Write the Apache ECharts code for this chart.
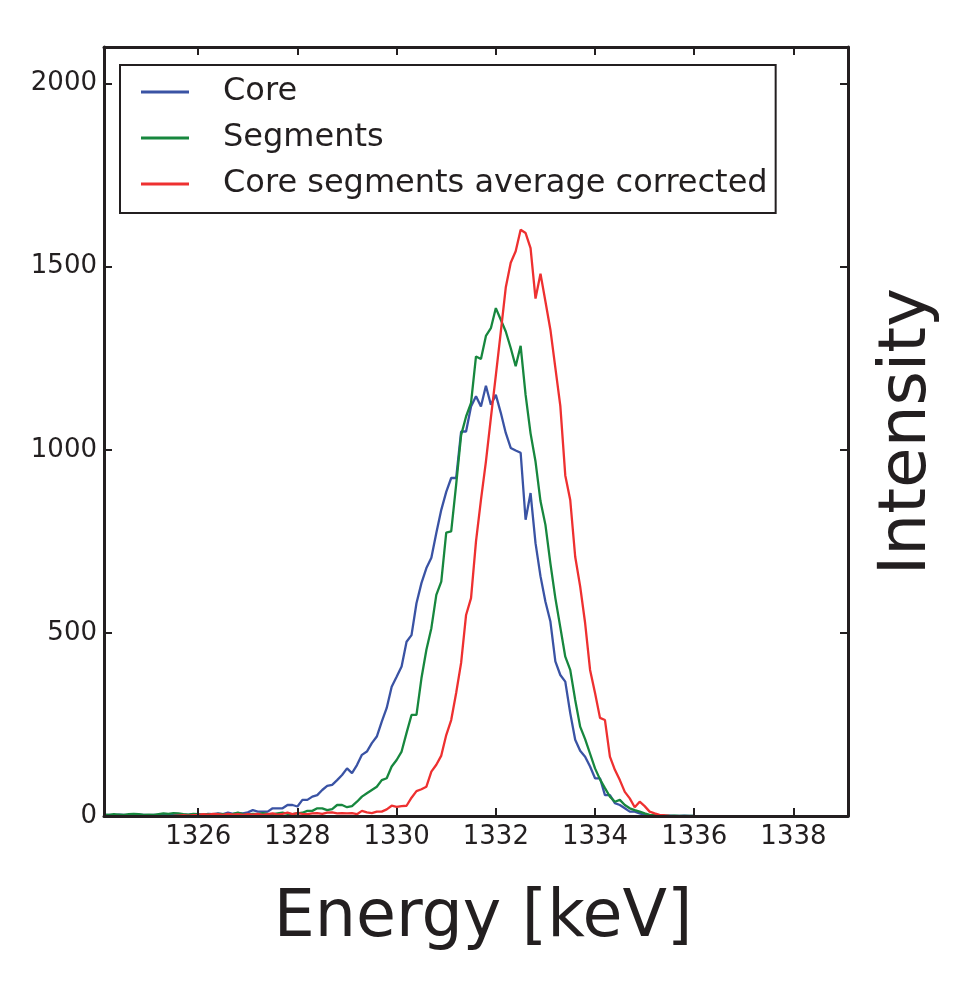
<!DOCTYPE html>
<html><head><meta charset="utf-8">
<script src="https://cdn.jsdelivr.net/npm/echarts@6/dist/echarts.min.js"></script>
<style>html,body{margin:0;padding:0;background:#fff}#c{width:954px;height:991px}</style>
</head><body><div id="c"></div>
<script>
const energies = [
1324.1,1324.2,1324.3,1324.4,1324.5,1324.6,1324.7,1324.8,1324.9,1325.0,
1325.1,1325.2,1325.3,1325.4,1325.5,1325.6,1325.7,1325.8,1325.9,1326.0,
1326.1,1326.2,1326.3,1326.4,1326.5,1326.6,1326.7,1326.8,1326.9,1327.0,
1327.1,1327.2,1327.3,1327.4,1327.5,1327.6,1327.7,1327.8,1327.9,1328.0,
1328.1,1328.2,1328.3,1328.4,1328.5,1328.6,1328.7,1328.8,1328.9,1329.0,
1329.1,1329.2,1329.3,1329.4,1329.5,1329.6,1329.7,1329.8,1329.9,1330.0,
1330.1,1330.2,1330.3,1330.4,1330.5,1330.6,1330.7,1330.8,1330.9,1331.0,
1331.1,1331.2,1331.3,1331.4,1331.5,1331.6,1331.7,1331.8,1331.9,1332.0,
1332.1,1332.2,1332.3,1332.4,1332.5,1332.6,1332.7,1332.8,1332.9,1333.0,
1333.1,1333.2,1333.3,1333.4,1333.5,1333.6,1333.7,1333.8,1333.9,1334.0,
1334.1,1334.2,1334.3,1334.4,1334.5,1334.6,1334.7,1334.8,1334.9,1335.0,
1335.1,1335.2,1335.3,1335.4,1335.5,1335.6,1335.7,1335.8,1335.9,1336.0
];
const coreValues = [
2,3,2,4,3,2,3,4,3,2,
3,2,4,3,5,3,4,3,5,4,
4,6,5,7,5,9,6,8,7,10,
16,12,12,12,21,21,21,30,30,26,
44,44,53,57,71,82,85,98,112,130,
117,139,167,176,199,217,258,295,353,380,
408,476,494,581,636,677,705,773,836,885,
923,923,1050,1050,1118,1146,1118,1175,1123,1150,
1101,1046,1005,998,992,809,882,745,655,585,
531,422,385,367,281,208,178,162,135,103,
103,57,57,35,30,21,12,12,7,3,
2,1,2,0,1,0,0,1,0,0
];
const segmentValues = [
4,3,5,4,3,5,6,5,3,4,
3,5,7,6,8,7,5,4,6,5,
3,5,4,6,5,4,6,9,5,4,
6,5,8,6,5,7,9,6,5,7,
9,14,14,21,21,16,19,30,30,24,
27,39,53,62,71,80,98,103,135,153,
176,227,276,276,376,454,513,604,640,774,
777,905,1040,1091,1128,1255,1248,1311,1332,1387,
1355,1323,1278,1228,1284,1150,1045,968,860,795,
690,595,515,435,399,317,244,210,170,130,
100,76,53,39,44,30,21,16,12,7,
3,2,1,1,0,1,0,0,0,0
];
const correctedValues = [
null,null,null,null,null,null,null,null,null,null,
null,null,null,null,0,1,2,1,2,3,
5,4,6,5,3,6,4,5,3,5,
4,6,3,5,7,4,6,9,5,8,
6,5,7,8,6,9,10,7,8,7,
8,5,14,10,8,12,12,18,28,25,
27,28,50,68,73,80,121,140,165,221,
262,336,418,549,595,750,863,968,1087,1203,
1322,1443,1511,1542,1601,1592,1551,1413,1481,1405,
1328,1224,1120,930,863,708,627,527,399,336,
268,262,162,126,98,66,48,24,39,27,
12,7,3,2,0,null,null,null,null,null
];
const seriesNames = ['Core', 'Segments', 'Core segments average corrected'];
const seriesColors = ['#3A53A4', '#17873E', '#EE3030'];
const xTicks = [1326, 1328, 1330, 1332, 1334, 1336, 1338];
const yTicks = [0, 500, 1000, 1500, 2000];

const ink = '#231f20';
const font = 'DejaVu Sans';
function pairs(vals) { return energies.map((e, i) => [e, vals[i]]); }
const allValues = [coreValues, segmentValues, correctedValues];
const plain = v => String(v);

const chart = echarts.init(document.getElementById('c'), null, {renderer: 'canvas'});
const axisLineStyle = {show: true, onZero: false, lineStyle: {color: ink, width: 3}};
const tickStyle = {show: true, inside: true, length: 8, lineStyle: {color: ink, width: 2}};
chart.setOption({
  backgroundColor: '#fff',
  animation: false,
  grid: {left: 104, right: 106, top: 47, bottom: 175, containLabel: false},
  legend: {
    orient: 'vertical', left: 120, top: 65,
    padding: [11, 8, 13, 21],
    itemWidth: 48, itemHeight: 3, itemGap: 14, icon: 'rect',
    borderColor: ink, borderWidth: 2, backgroundColor: '#fff',
    textStyle: {fontFamily: font, fontSize: 32, color: ink, lineHeight: 32, padding: [0, 0, 0, 29]},
    data: seriesNames
  },
  xAxis: [
    {type: 'value', position: 'bottom', min: 1324.1, max: 1339.1, z: 5,
     axisLine: axisLineStyle, axisTick: Object.assign({customValues: xTicks}, tickStyle),
     axisLabel: {customValues: xTicks, formatter: plain, fontFamily: font, fontSize: 26, color: ink, margin: 8},
     splitLine: {show: false},
     name: 'Energy [keV]', nameLocation: 'middle', nameGap: 71,
     nameTextStyle: {fontFamily: font, fontSize: 65, color: ink, padding: [0, 0, 0, 14]}},
    {type: 'value', position: 'top', min: 1324.1, max: 1339.1, z: 5,
     axisLine: axisLineStyle, axisTick: Object.assign({customValues: xTicks}, tickStyle),
     axisLabel: {show: false}, splitLine: {show: false}}
  ],
  yAxis: [
    {type: 'value', position: 'left', min: 0, max: 2100, z: 5,
     axisLine: axisLineStyle, axisTick: Object.assign({customValues: yTicks}, tickStyle),
     axisLabel: {customValues: yTicks, formatter: plain, fontFamily: font, fontSize: 26, color: ink, margin: 7},
     splitLine: {show: false}},
    {type: 'value', position: 'right', min: 0, max: 2100, z: 5,
     axisLine: axisLineStyle, axisTick: Object.assign({customValues: yTicks}, tickStyle),
     axisLabel: {show: false}, splitLine: {show: false},
     name: 'Intensity', nameLocation: 'middle', nameRotate: 90, nameGap: 27,
     nameTextStyle: {fontFamily: font, fontSize: 66, color: ink}}
  ],
  series: seriesNames.map((n, k) => ({
    name: n, type: 'line', data: pairs(allValues[k]),
    showSymbol: false, symbol: 'none', smooth: false, connectNulls: false,
    lineStyle: {color: seriesColors[k], width: 2.3}, itemStyle: {color: seriesColors[k]}
  }))
});
</script></body></html>
